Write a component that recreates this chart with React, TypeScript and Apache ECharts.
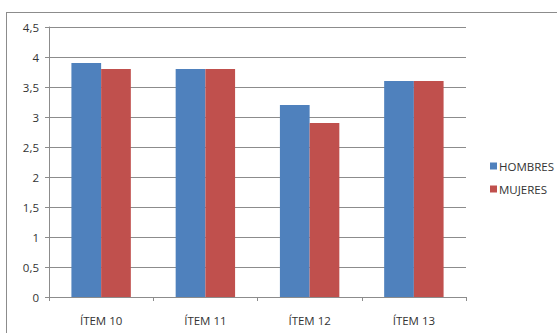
import React, { useEffect, useRef } from "react";
import * as echarts from "echarts";

const categories = ["ÍTEM 10", "ÍTEM 11", "ÍTEM 12", "ÍTEM 13"];
const hombres = [3.9, 3.8, 3.2, 3.6];
const mujeres = [3.8, 3.8, 2.9, 3.6];
const seriesNames = ["HOMBRES", "MUJERES"];

const FONT = "'Open Sans', 'Noto Sans', sans-serif";

export default function App() {
  const ref = useRef<HTMLDivElement>(null);

  useEffect(() => {
    if (!ref.current) return;
    const chart = echarts.init(ref.current, null, { renderer: "svg" });
    chart.setOption({
      animation: false,
      backgroundColor: "#ffffff",
      textStyle: { fontFamily: FONT },
      grid: { left: 49, right: 91, top: 27, bottom: 36, containLabel: false },
      legend: {
        orient: "vertical",
        left: 485,
        top: 155,
        itemWidth: 7,
        itemHeight: 7,
        itemGap: 11,
        icon: "rect",
        textStyle: { fontSize: 11.5, color: "#333", fontFamily: FONT, padding: [0, 0, 0, -3] },
        data: seriesNames,
      },
      xAxis: {
        type: "category",
        data: categories,
        axisLine: { lineStyle: { color: "#8c8c8c", width: 1 } },
        axisTick: { show: true, length: 4, lineStyle: { color: "#8c8c8c" } },
        axisLabel: { fontSize: 11.5, color: "#333", margin: 17, fontFamily: FONT },
      },
      yAxis: {
        type: "value",
        min: 0,
        max: 4.5,
        interval: 0.5,
        axisLine: { show: true, lineStyle: { color: "#8c8c8c", width: 1 } },
        axisTick: { show: true, length: 4, lineStyle: { color: "#8c8c8c" } },
        splitLine: { lineStyle: { color: "#8c8c8c", width: 1 } },
        axisLabel: {
          fontSize: 11.5,
          color: "#333",
          margin: 10,
          fontFamily: FONT,
          formatter: (v: number) => String(v).replace(".", ","),
        },
      },
      series: [
        {
          name: seriesNames[0],
          type: "bar",
          data: hombres,
          itemStyle: { color: "#4F81BD" },
          barGap: "0%",
          barCategoryGap: "43%",
        },
        {
          name: seriesNames[1],
          type: "bar",
          data: mujeres,
          itemStyle: { color: "#C0504D" },
        },
      ],
      graphic: [
        {
          type: "line",
          shape: { x1: 6, y1: 12.5, x2: 557, y2: 12.5 },
          style: { stroke: "#8c8c8c", lineWidth: 1 },
        },
        {
          type: "line",
          shape: { x1: 6.5, y1: 12, x2: 6.5, y2: 333 },
          style: { stroke: "#8c8c8c", lineWidth: 1 },
        },
      ],
    });
    return () => chart.dispose();
  }, []);

  return (
    <div
      ref={ref}
      style={{ position: "fixed", left: 0, top: 0, width: 557, height: 333 }}
    />
  );
}
